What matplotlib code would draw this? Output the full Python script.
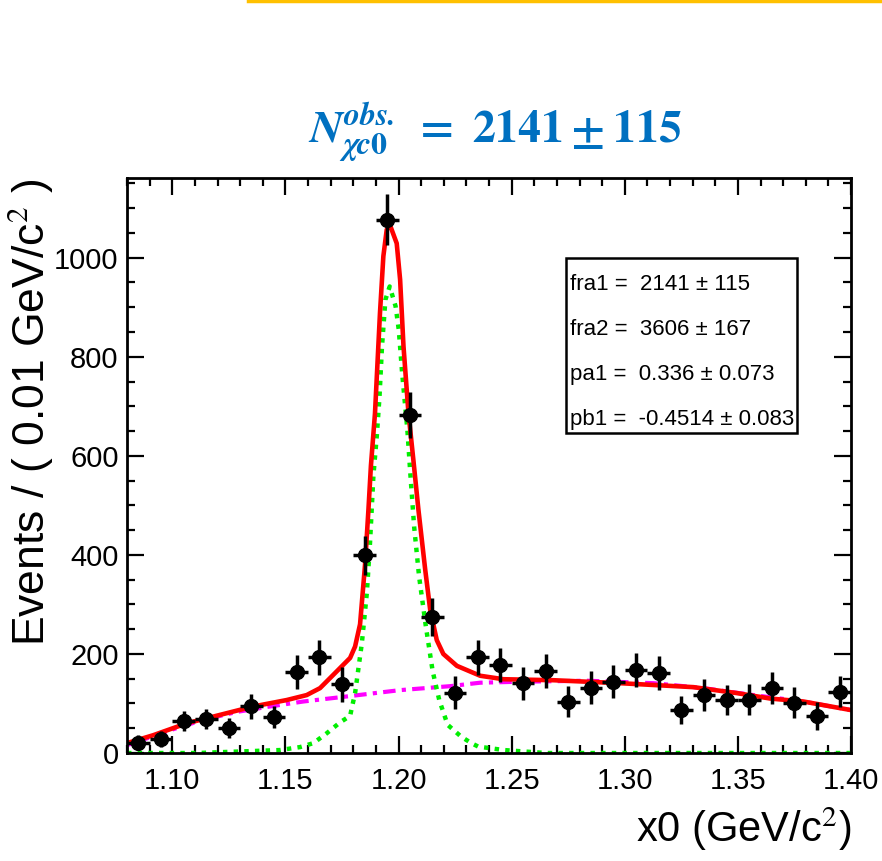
import matplotlib.pyplot as plt
from matplotlib.lines import Line2D
from matplotlib.patches import Rectangle
from matplotlib.ticker import MultipleLocator

plt.rcParams['font.family'] = ['Liberation Sans', 'DejaVu Sans']
plt.rcParams['mathtext.fontset'] = 'stix'

# data points, bins of 0.01 GeV/c^2
x0 = [1.085, 1.095, 1.105, 1.115, 1.125, 1.135, 1.145, 1.155, 1.165, 1.175,
      1.185, 1.195, 1.205, 1.215, 1.225, 1.235, 1.245, 1.255, 1.265, 1.275,
      1.285, 1.295, 1.305, 1.315, 1.325, 1.335, 1.345, 1.355, 1.365, 1.375,
      1.385, 1.395]
events = [21, 28, 65, 68, 51, 94, 73, 163, 193, 139,
          399, 1077, 683, 275, 122, 193, 178, 141, 166, 104,
          132, 144, 168, 161, 87, 117, 107, 108, 131, 102,
          75, 124]
errors = [15, 16, 20, 20, 20, 25, 22, 34, 35, 35,
          40, 52, 46, 38, 34, 35, 35, 33, 34, 31,
          33, 33, 34, 34, 29, 32, 31, 31, 33, 31,
          28, 32]

# total fit (red)
tot_x = [1.080, 1.0916, 1.1064, 1.1211, 1.1358, 1.1506, 1.1594, 1.1653, 1.1712,
         1.1786, 1.1808, 1.1830, 1.1852, 1.1867, 1.1878, 1.1896, 1.1918, 1.1933,
         1.1948, 1.1963, 1.1992, 1.2007, 1.2022, 1.2044, 1.2066, 1.2088, 1.2118,
         1.2140, 1.2169, 1.2198, 1.2258, 1.2361, 1.2464, 1.2685, 1.2979, 1.3304,
         1.3495, 1.3643, 1.3790, 1.3996]
tot_y = [20, 36, 60, 77, 94, 107, 117, 131, 158,
         192, 215, 260, 380, 491, 580, 686, 888, 1003,
         1057, 1065, 1029, 956, 821, 686, 590, 491, 370,
         289, 228, 200, 176, 156, 149, 147, 141, 133,
         121, 110, 104, 87]

# signal component (green)
sig_x = [1.080, 1.1108, 1.1476, 1.1565, 1.1624, 1.1683, 1.1742, 1.1786, 1.1808,
         1.1838, 1.1860, 1.1874, 1.1889, 1.1904, 1.1916, 1.1927, 1.1942, 1.1961,
         1.1987, 1.2001, 1.2016, 1.2039, 1.2054, 1.2069, 1.2091, 1.2121, 1.2151,
         1.2180, 1.2217, 1.2277, 1.2322, 1.2352, 1.2466, 1.2652, 1.400]
sig_y = [0, 0, 6, 12, 20, 40, 62, 75, 121,
         222, 323, 424, 560, 640, 720, 821, 915, 942,
         902, 855, 767, 653, 552, 457, 356, 255, 165,
         107, 57, 33, 20, 13, 6, 0, 0]

# background component (magenta)
bkg_x = [1.080, 1.0828, 1.099, 1.1137, 1.1285, 1.1432, 1.1579, 1.1786, 1.2007,
         1.2228, 1.2361, 1.2537, 1.2832, 1.3127, 1.3348, 1.3569, 1.3790, 1.3996]
bkg_y = [16, 20, 46, 67, 83, 94, 104, 115, 127,
         135, 142, 144, 146, 141, 131, 117, 104, 87]

par_names = ['fra1', 'fra2', 'pa1', 'pb1']
par_vals = ['2141', '3606', '0.336', '-0.4514']
par_errs = ['115', '167', '0.073', '0.083']

fig = plt.figure(figsize=(8.82, 8.61), dpi=100)
ax = fig.add_axes([0.144, 0.1254, 0.8209, 0.6679])

ax.plot(bkg_x, bkg_y, color='#ff00ff', lw=3, ls=(0, (3, 1.5, 1, 1.5)))
ax.plot(sig_x, sig_y, color='#00ee00', lw=3.2, ls=(0, (1, 1.4)))
ax.plot(tot_x, tot_y, color='#ff0000', lw=3.3)
ax.errorbar(x0, events, yerr=errors, xerr=0.005, fmt='o', color='black',
            ms=10, elinewidth=2.5, capsize=0)

ax.set_xlim(1.08, 1.40)
ax.set_ylim(0, 1161)
ax.xaxis.set_major_locator(MultipleLocator(0.05))
ax.xaxis.set_minor_locator(MultipleLocator(0.01))
ax.yaxis.set_major_locator(MultipleLocator(200))
ax.yaxis.set_minor_locator(MultipleLocator(50))
ax.xaxis.set_major_formatter(plt.FuncFormatter(lambda v, p: f'{v:.2f}'))
ax.tick_params(which='both', direction='in', top=True, right=True, width=1.6)
ax.tick_params(which='major', length=12, labelsize=21)
ax.tick_params(which='minor', length=6)
ax.tick_params(axis='x', pad=10)
ax.tick_params(axis='y', pad=6)
for s in ax.spines.values():
    s.set_linewidth(2)

ax.set_ylabel('Events / ( 0.01 GeV/c$^2$ )', fontsize=32, loc='top')
ax.yaxis.set_label_coords(-0.10, 1.0)
ax.set_xlabel('x0 (GeV/c$^2$)', fontsize=30, loc='right')
ax.xaxis.set_label_coords(1.0, -0.09)

# parameter box
ax.add_patch(Rectangle((0.606, 0.5565), 0.319, 0.3045, transform=ax.transAxes,
                       fill=False, lw=1.8, color='black'))
for i, (n, v, e) in enumerate(zip(par_names, par_vals, par_errs)):
    ax.text(0.612, 0.814 - i * 0.078, f'{n} =  {v} \u00b1 {e}',
            transform=ax.transAxes, fontsize=16, va='center', ha='left')

fig.text(0.561, 0.846,
         r'$\mathbfit{N}_{\mathbfit{\chi c}\mathbf{0}}^{\mathbfit{obs.}}\ \mathbf{=\ 2141\pm115}$',
         color='#0070c0', fontsize=33, ha='center', va='center')

fig.add_artist(Line2D([248 / 882, 1.0], [0.9985, 0.9985], transform=fig.transFigure,
                      color='#ffc000', lw=2.5))

fig.savefig('out.png', dpi=100)
